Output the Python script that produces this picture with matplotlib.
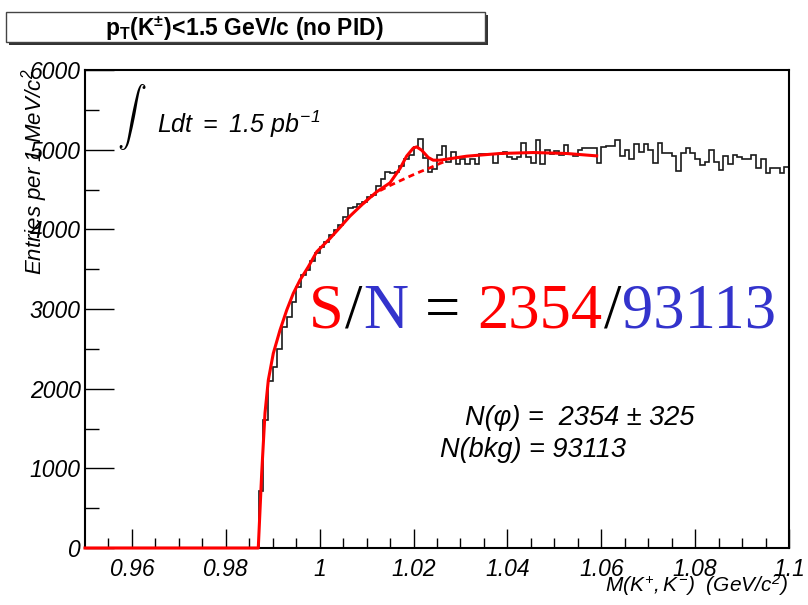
import numpy as np
import matplotlib
matplotlib.use("Agg")
import matplotlib.pyplot as plt
from matplotlib.patches import Rectangle

plt.rcParams['mathtext.fontset'] = 'custom'
plt.rcParams['mathtext.rm'] = 'Liberation Sans:italic'
plt.rcParams['mathtext.it'] = 'Liberation Sans:italic'
plt.rcParams['mathtext.bf'] = 'Liberation Sans:bold'
plt.rcParams['font.family'] = ['Liberation Sans', 'DejaVu Sans']

# ---------------- data ----------------
bin_lo = 0.950
bin_hi = 1.100
n_bins = 150
# entries per 1 MeV bin (0.950 ... 1.099)
zeros_below = [0] * 37  # 0.950 - 0.986
rise = [719, 1606, 2099, 2275, 2493, 2777, 2902, 3083, 3279, 3425,
        3488, 3600, 3697, 3780, 3843, 3927, 3990, 4053, 4149, 4262,
        4282, 4324, 4345, 4408, 4429, 4542, 4626, 4722, 4701, 4720,
        4793, 4889, 4931, 5036, 5132]  # 0.987 - 1.021
mid = [4900, 4720, 4760, 4930, 5040, 4850, 4970, 4820, 4880, 4820,
       4880, 4820, 4950, 4950, 4950, 4835, 4950, 4970, 4910, 4880,
       4910, 5080, 4910, 4835, 5120, 4820, 4990, 4950, 4985, 4930,
       5060, 4945, 4920, 4995, 5015]  # 1.022 - 1.056
tail = [5015, 5015, 4835, 5030, 5045, 5040, 5119, 4918, 4994, 4877,
        5077, 4973, 5077, 4994, 4835, 5085, 4960, 4952, 4918, 4734,
        4952, 5027, 4952, 4877, 4806, 4847, 4994, 4847, 4751, 4918,
        4818, 4931, 4910, 4889, 4877, 4931, 4776, 4877, 4701, 4764,
        4764, 4709, 4785]  # 1.057 - 1.099
counts = zeros_below + rise + mid + tail

fit_mass = [0.950, 0.98692, 0.98765, 0.98835, 0.98906, 0.99012, 0.99155,
            0.99298, 0.99438, 0.99581, 0.99758, 0.99937, 1.00220, 1.00433,
            1.00646, 1.00930, 1.01215, 1.01499, 1.01712, 1.01854, 1.01995,
            1.02066, 1.02172, 1.02313, 1.02419, 1.02562, 1.03131, 1.03842,
            1.04552, 1.05262, 1.05902]
fit_vals = [0, 0, 941, 1694, 2108, 2443, 2735, 2986, 3196, 3363, 3530,
            3718, 3886, 4024, 4166, 4325, 4471, 4584, 4764, 4920, 5020,
            5035, 4994, 4902, 4868, 4868, 4918, 4952, 4964, 4952, 4922]

bkg_mass = [1.0093, 1.01215, 1.01499, 1.01712, 1.01925, 1.02138, 1.02351,
            1.02562, 1.02705]
bkg_vals = [4325, 4465, 4550, 4609, 4667, 4722, 4772, 4827, 4860]

xticks = [0.96, 0.98, 1.00, 1.02, 1.04, 1.06, 1.08, 1.10]
xticklabels = ["0.96", "0.98", "1", "1.02", "1.04", "1.06", "1.08", "1.1"]
yticks = [0, 1000, 2000, 3000, 4000, 5000, 6000]
yticklabels = ["0", "1000", "2000", "3000", "4000", "5000", "6000"]

# ---------------- figure ----------------
W, H = 808, 605
fig = plt.figure(figsize=(W / 100, H / 100), dpi=100)
def fx(px): return px / W
def fy(py): return 1 - py / H

ax = fig.add_axes([fx(85), fy(548), (789 - 85) / W, (548 - 70) / H])
edges = np.linspace(bin_lo, bin_hi, n_bins + 1)
ax.stairs(counts, edges, color='#1a1a1a', lw=1.2, baseline=0, zorder=2)
ax.plot(bkg_mass, bkg_vals, color='#ff0000', lw=2.0, ls=(0, (2.2, 1.6)), zorder=3)
ax.plot(fit_mass, fit_vals, color='#ff0000', lw=2.2, zorder=4, clip_on=False)

ax.set_xlim(bin_lo, bin_hi)
ax.set_ylim(0, 6000)
ax.set_xticks(xticks)
ax.set_xticklabels(xticklabels)
ax.set_yticks(yticks)
ax.set_yticklabels(yticklabels)
ax.set_xticks(np.arange(0.955, 1.1, 0.005), minor=True)
ax.set_yticks(np.arange(500, 6000, 1000), minor=True)
ax.tick_params(axis='x', which='major', direction='in', length=14, width=1.0,
               labelsize=16.5, pad=7, top=False)
ax.tick_params(axis='x', which='minor', direction='in', length=7, width=1.0, top=False)
ax.tick_params(axis='y', which='major', direction='in', length=21, width=1.0,
               labelsize=16.5, pad=3, right=False)
ax.tick_params(axis='y', which='minor', direction='in', length=10, width=1.0, right=False)
for lab in ax.get_xticklabels() + ax.get_yticklabels():
    lab.set_fontstyle('italic')
for sp in ax.spines.values():
    sp.set_linewidth(1.5)

# axis titles
fig.text(fx(788), fy(585), r'$M(K^{+},K^{-})\ \ (GeV/c^{2})$', fontsize=15,
         ha='right', va='center')
fig.text(fx(35), fy(68), r'$Entries\ per\ 1\ MeV/c^{2}$', fontsize=16,
         rotation=90, ha='center', va='top')

# title box with shadow
fig.patches.append(Rectangle((fx(9), fy(45)), (485 - 6) / W, (42 - 12) / H,
                             transform=fig.transFigure, facecolor='#333333',
                             edgecolor='none', zorder=1))
fig.patches.append(Rectangle((fx(6), fy(42)), (485 - 6) / W, (42 - 12) / H,
                             transform=fig.transFigure, facecolor='white',
                             edgecolor='#444444', lw=1.0, zorder=2))
fig.text(fx(244), fy(29), r'$\mathbf{p_{T}(K^{\pm})\!<\!1.5\ GeV/c\ (no\ PID)}$',
         fontsize=16.5, ha='center', va='center', zorder=3)

# luminosity
fig.text(fx(132), fy(117), r'$\int$', fontsize=21, math_fontfamily='cm',
         ha='center', va='center')
fig.text(fx(157), fy(124), r'$Ldt\ =\ 1.5\ pb^{-1}$', fontsize=18,
         ha='left', va='center')

# fit results
fig.text(fx(465), fy(418), 'N(φ) =  2354 ± 325', fontsize=19.5, style='italic',
         ha='left', va='center')
fig.text(fx(440), fy(450), 'N(bkg) = 93113', fontsize=19.5, style='italic',
         ha='left', va='center')

# S/N coloured text
renderer = fig.canvas.get_renderer()
pieces = [("S", '#ff0000', 0), ("/", 'black', 0), ("N", '#3333cc', 0),
          ("=", 'black', 16), ("2354", '#ff0000', 16), ("/", 'black', 0),
          ("93113", '#3333cc', 0)]
x = 309
for s, c, gap in pieces:
    x += gap
    t = fig.text(fx(x), fy(328), s, color=c, fontsize=45,
                 family='Liberation Serif', ha='left', va='baseline')
    bb = t.get_window_extent(renderer)
    x += bb.width + 1

fig.savefig('out.png', dpi=100)
